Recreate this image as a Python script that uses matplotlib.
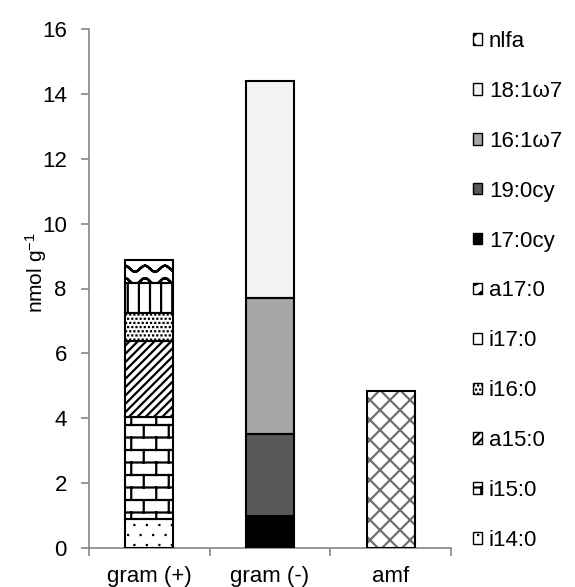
import warnings
import numpy as np
import matplotlib
matplotlib.use("Agg")
import matplotlib.pyplot as plt
import matplotlib.hatch as mhatch
import matplotlib.patches as mpatches
from matplotlib.path import Path

warnings.filterwarnings("ignore")

categories = ['gram (+)', 'gram (-)', 'amf']
series = ['i14:0', 'i15:0', 'a15:0', 'i16:0', 'i17:0', 'a17:0',
          '17:0cy', '19:0cy', '16:1ω7', '18:1ω7', 'nlfa']

# nmol g-1 per marker group (gram (+), gram (-), amf)
i14_0 = [0.88, 0, 0]
i15_0 = [3.17, 0, 0]
a15_0 = [2.34, 0, 0]
i16_0 = [0.86, 0, 0]
i17_0 = [0.91, 0, 0]
a17_0 = [0.73, 0, 0]
cy17_0 = [0, 1.00, 0]
cy19_0 = [0, 2.50, 0]
w7_16_1 = [0, 4.20, 0]
w7_18_1 = [0, 6.70, 0]
nlfa = [0, 0, 4.85]

values = [i14_0, i15_0, a15_0, i16_0, i17_0, a17_0,
          cy17_0, cy19_0, w7_16_1, w7_18_1, nlfa]

# fill colour, hatch pattern, hatch colour
styles = [
    ('white', 'p', 'black'),
    ('white', 'b', 'black'),
    ('white', 'd', 'black'),
    ('white', 'q', 'black'),
    ('white', 'v', 'black'),
    ('white', 'w', 'black'),
    ('black', None, 'black'),
    ('#595959', None, 'black'),
    ('#a6a6a6', None, 'black'),
    ('#f2f2f2', None, 'black'),
    ('white', 'c', '#707070'),
]


# --- extra hatch patterns (bricks, waves, dots, lines) ---
class SegmentHatch(mhatch.HatchPatternBase):
    char = None

    def __init__(self, hatch, density):
        if hatch is not None and self.char in hatch:
            self.segs = np.asarray(self.segments(), dtype=float)
        else:
            self.segs = np.empty((0, 2, 2))
        self.num_vertices = len(self.segs) * 2

    def set_vertices_and_codes(self, vertices, codes):
        vertices[:] = self.segs.reshape(-1, 2)
        codes[0::2] = Path.MOVETO
        codes[1::2] = Path.LINETO


class BrickHatch(SegmentHatch):
    char = 'b'

    def segments(self):
        rows, cols = 8, 4
        segs = [[[0, k / rows], [1, k / rows]] for k in range(rows + 1)]
        for k in range(rows):
            shift = 0.25 if k % 2 == 0 else 0.75
            for j in range(cols):
                x = (j + shift) / cols
                segs.append([[x, k / rows], [x, (k + 1) / rows]])
        return segs


class WaveHatch(SegmentHatch):
    char = 'w'

    def segments(self):
        rows, periods, amp = 8, 5, 0.03
        xs = np.linspace(0, 1, 101)
        segs = []
        for k in range(rows):
            yc = (k + 0.5) / rows
            ys = yc + amp * np.sin(2 * np.pi * periods * xs)
            for a in range(len(xs) - 1):
                segs.append([[xs[a], ys[a]], [xs[a + 1], ys[a + 1]]])
        return segs


class VerticalHatch(SegmentHatch):
    char = 'v'

    def segments(self):
        n = 9
        return [[[(j + 0.5) / n, 0], [(j + 0.5) / n, 1]] for j in range(n)]


def diagonals(n, rising=True):
    segs = []
    for j in range(2 * n):
        c = (j + 0.5) / n - 1
        if rising:
            segs.append([[c, 0], [1 + c, 1]])
        else:
            segs.append([[c, 1], [1 + c, 0]])
    return segs


class DiagonalHatch(SegmentHatch):
    char = 'd'

    def segments(self):
        return diagonals(12)


class CrossHatch(SegmentHatch):
    char = 'c'

    def segments(self):
        return diagonals(5) + diagonals(5, rising=False)


class DotHatch(SegmentHatch):
    rows, cols = 10, 8

    def segments(self):
        segs = []
        for k in range(self.rows):
            shift = 0.25 if k % 2 == 0 else 0.75
            y = (k + 0.5) / self.rows
            for j in range(self.cols):
                x = (j + shift) / self.cols
                segs.append([[x, y], [x + 1e-4, y]])
        return segs


class SparseDotHatch(DotHatch):
    char = 'p'
    rows, cols = 10, 8


class DenseDotHatch(DotHatch):
    char = 'q'
    rows, cols = 24, 24


mhatch._hatch_types.extend([BrickHatch, WaveHatch, VerticalHatch,
                            DiagonalHatch, CrossHatch,
                            SparseDotHatch, DenseDotHatch])

plt.rcParams['font.family'] = ['Liberation Sans', 'DejaVu Sans']
plt.rcParams['mathtext.default'] = 'regular'
plt.rcParams['hatch.linewidth'] = 1.6

fig = plt.figure(figsize=(5.75, 5.87), dpi=100)
ax = fig.add_axes([89 / 575, 39 / 587, 362 / 575, 519 / 587])

x = np.arange(len(categories))
width = 0.40
bottom = np.zeros(len(categories))
handles = []
for name, vals, (fc, hatch, hc) in zip(series, values, styles):
    vals = np.asarray(vals, dtype=float)
    keep = vals > 0
    ax.bar(x[keep], vals[keep], width, bottom=bottom[keep], color=fc,
           hatch=hatch, edgecolor=hc, linewidth=0, zorder=2)
    ax.bar(x[keep], vals[keep], width, bottom=bottom[keep], fill=False,
           edgecolor='black', linewidth=1.5, zorder=3)
    bottom += vals
    handles.append(mpatches.Patch(facecolor=fc, hatch=hatch, edgecolor='black',
                                  linewidth=1.0, label=name))

axis_grey = '#868686'
ax.set_xlim(-0.5, 2.5)
ax.set_ylim(0, 16)
ax.set_yticks(np.arange(0, 17, 2))
ax.set_xticks([-0.5, 0.5, 1.5, 2.5])
ax.set_xticklabels([])
ax.set_xticks(x, minor=True)
ax.set_xticklabels(categories, minor=True)
ax.tick_params(axis='x', which='major', length=6, width=1.2, color=axis_grey)
ax.tick_params(axis='x', which='minor', length=0, pad=13, labelsize=16)
ax.tick_params(axis='y', length=6, width=1.2, color=axis_grey, pad=10,
               labelsize=16)
for side in ('top', 'right'):
    ax.spines[side].set_visible(False)
for side in ('left', 'bottom'):
    ax.spines[side].set_color(axis_grey)
    ax.spines[side].set_linewidth(1.2)

ax.set_ylabel('nmol g$^{-1}$', fontsize=15)
ax.yaxis.set_label_coords(-0.11, 0.53)

fig.legend(handles[::-1], series[::-1], loc='upper left',
           bbox_to_anchor=(473 / 575, 1 - 31 / 587), frameon=False,
           fontsize=16, handlelength=0.42, handleheight=0.42,
           handletextpad=0.3, labelspacing=1.3, borderpad=0, borderaxespad=0)

fig.savefig('out.png', dpi=100)
